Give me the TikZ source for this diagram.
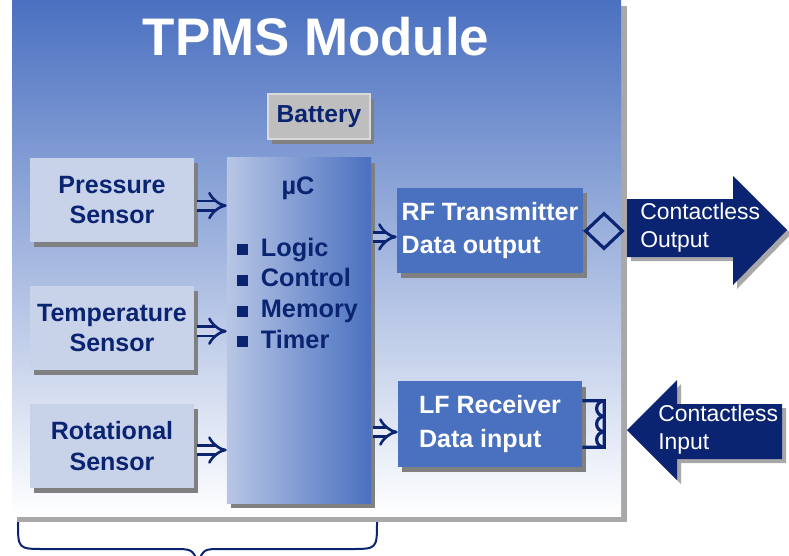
\documentclass[tikz,border=0pt]{standalone}
\usepackage{fontspec}
\setmainfont{Liberation Sans}
\usepackage{tikz}
\usetikzlibrary{arrows.meta, shapes.geometric, shadows}

\definecolor{navy}{RGB}{10,36,114}
\definecolor{panelblue}{RGB}{74,112,192}
\definecolor{panelmid}{RGB}{182,196,230}
\definecolor{sensorfill}{RGB}{200,211,234}
\definecolor{uclight}{RGB}{184,198,229}
\definecolor{batteryfill}{RGB}{190,190,190}
\definecolor{batteryedge}{RGB}{218,218,218}
\definecolor{shadowgray}{RGB}{128,128,128}
\definecolor{panelshadow}{RGB}{168,168,168}

\newcommand{\ucbullet}{\raisebox{0.6pt}{\rule{7.8pt}{7.8pt}}\hspace{9pt}}

\begin{document}
\begin{tikzpicture}[
    x=0.025cm, y=-0.025cm,
    boxshadow/.style={drop shadow={shadow xshift=0.1cm, shadow yshift=-0.13cm, fill=shadowgray, opacity=1}},
    sensor/.style={rectangle, fill=sensorfill, boxshadow, minimum width=4.1cm, minimum height=2.1cm, align=center, text=navy, font=\fontsize{17.8}{22}\selectfont\bfseries},
    unit/.style={rectangle, fill=panelblue, boxshadow, minimum width=4.6cm, minimum height=2.125cm, align=left, text=white, font=\fontsize{17.8}{23.5}\selectfont\bfseries},
    flow/.style={-{Implies[length=0.2cm]}, draw=navy, line width=0.065cm, double=#1, double distance=0.17cm},
    flow/.default=white,
    link/.style={draw=navy, line width=0.08cm},
    arrowtext/.style={text=white, align=left, inner sep=0pt, font=\fontsize{16.3}{20}\selectfont}
]
\useasboundingbox (0,0) rectangle (789,555);

% module panel
\fill[panelshadow] (17,6) rectangle (627,522);
\shade[top color=panelblue, middle color=panelmid, bottom color=white] (12,0) rectangle (621,516);
\node[text=white, font=\fontsize{37.6}{40}\selectfont\bfseries] (title) at (316,37) {TPMS Module};

% battery
\node[rectangle, fill=batteryfill, draw=batteryedge, line width=0.05cm, boxshadow, minimum width=2.55cm, minimum height=1.13cm, text=navy, font=\fontsize{17.5}{22}\selectfont\bfseries] (battery) at (319,116.5) {Battery};

% sensors
\node[sensor] (press) at (112,200) {Pressure\\Sensor};
\node[sensor] (temp) at (112,328) {Temperature\\Sensor};
\node[sensor] (rot) at (112,446) {Rotational\\Sensor};

% microcontroller
\node[rectangle, left color=uclight, right color=panelblue, boxshadow, minimum width=3.6cm, minimum height=8.625cm] (uc) at (299,330.5) {};
\node[text=navy, font=\fontsize{18}{22}\selectfont\bfseries] (ucname) at (298,188) {µC};
\node[anchor=west, inner sep=0pt, align=left, text=navy, font=\fontsize{18}{21.8}\selectfont\bfseries] (uclist) at (237,293) {\ucbullet Logic\\\ucbullet Control\\\ucbullet Memory\\\ucbullet Timer};

% RF / LF units
\node[unit] (rf) at (490,230.5) {RF Transmitter\\Data output};
\node[unit] (lf) at (490,424) {LF Receiver\\Data input};

% sensor inputs
\draw[flow=panelmid!79!panelblue] ([xshift=0.075cm, yshift=-0.14cm]press.east) -- ([yshift=-0.14cm]press.east -| uc.west);
\draw[flow=white!28!panelmid] ([xshift=0.075cm, yshift=-0.08cm]temp.east) -- ([yshift=-0.08cm]temp.east -| uc.west);
\draw[flow=white!74!panelmid] ([xshift=0.075cm, yshift=-0.1cm]rot.east) -- ([yshift=-0.1cm]rot.east -| uc.west);

% outputs of the controller
\draw[flow=panelmid!92!panelblue] ([xshift=0.05cm, yshift=-0.16cm]rf.west -| uc.east) -- ([yshift=-0.16cm]rf.west);
\draw[flow=white!67!panelmid] ([xshift=0.05cm, yshift=-0.2cm]lf.west -| uc.east) -- ([yshift=-0.2cm]lf.west);

% antenna and coil
\node[diamond, draw=navy, line width=0.08cm, minimum width=0.95cm, minimum height=0.9cm, inner sep=0pt] (ant) at (604,231) {};
\draw[link] (rf.east) -- (ant.west);
\draw[link] ([yshift=0.58cm]lf.east) -- ++(0.55cm,0) -- ++(0,-1.16cm) -- ([yshift=-0.58cm]lf.east);
\foreach \k in {0,1,2}
    \draw[link] ([xshift=0.55cm, yshift=0.58cm-\k*0.387cm]lf.east) arc[start angle=90, end angle=270, radius=0.193cm];

% contactless output
\fill[panelshadow, xshift=0.1cm, yshift=-0.1cm] (627,199) -- (733,199) -- (733,176) -- (787,230) -- (733,285) -- (733,257) -- (627,257) -- cycle;
\fill[navy] (627,199) -- (733,199) -- (733,176) -- (787,230) -- (733,285) -- (733,257) -- (627,257) -- cycle;
\node[arrowtext, anchor=west] (outtxt) at (640,228) {Contactless\\Output};

% contactless input
\fill[panelshadow, xshift=0.1cm, yshift=-0.1cm] (627,430) -- (677,380) -- (677,404) -- (782,404) -- (782,459) -- (677,459) -- (677,480) -- cycle;
\fill[navy] (627,430) -- (677,380) -- (677,404) -- (782,404) -- (782,459) -- (677,459) -- (677,480) -- cycle;
\node[arrowtext, anchor=west] (intxt) at (658,430) {Contactless\\Input};

% brace under sensors and controller
\draw[navy, line width=0.05cm] (18,522) .. controls (18,549) .. (45,549) -- (172,549) .. controls (192,549) .. (198,562);
\draw[navy, line width=0.05cm] (377,522) .. controls (377,549) .. (350,549) -- (222,549) .. controls (204,549) .. (198,562);

\end{tikzpicture}
\end{document}
